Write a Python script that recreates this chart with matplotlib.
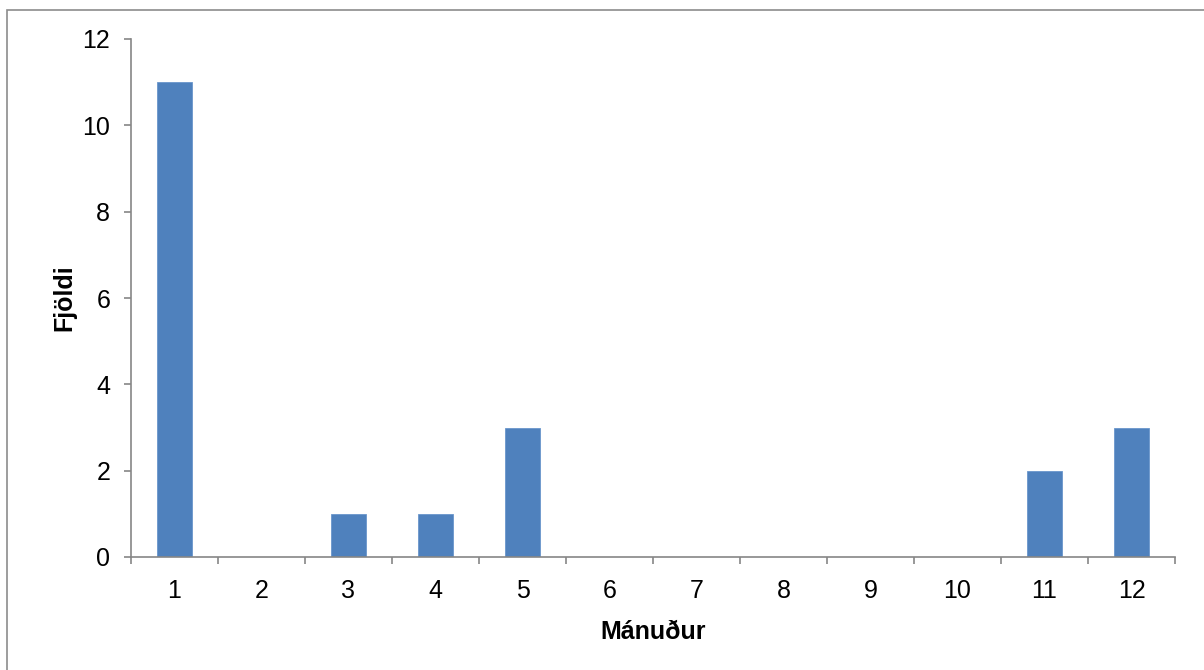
import matplotlib.pyplot as plt
from matplotlib.patches import Rectangle

plt.rcParams['font.family'] = ['Liberation Sans', 'DejaVu Sans']

manudir = [1, 2, 3, 4, 5, 6, 7, 8, 9, 10, 11, 12]
fjoldi = [11, 0, 1, 1, 3, 0, 0, 0, 0, 0, 2, 3]

fig = plt.figure(figsize=(12.04, 6.70), dpi=100)
ax = fig.add_axes([131 / 1204, 1 - 557 / 670, (1175 - 131) / 1204, (557 - 39) / 670])

# outer frame, only top and left edges fall inside the image
fig.patches.append(Rectangle((7 / 1204, -0.1), 1.2, 1 - 10 / 670 + 0.1,
                             transform=fig.transFigure, fill=False,
                             edgecolor='#8c8c8c', linewidth=1.2))

pos = list(range(len(manudir)))
ax.bar(pos, fjoldi, width=0.40, color='#4F81BD', edgecolor='#6a96cc', linewidth=0.6)

ax.set_xlim(-0.5, len(manudir) - 0.5)
ax.set_ylim(0, 12)
ax.set_yticks(range(0, 13, 2))

# category labels between boundary ticks
ax.set_xticks([p - 0.5 for p in pos] + [len(pos) - 0.5])
ax.set_xticklabels([])
ax.set_xticks(pos, minor=True)
ax.set_xticklabels([str(m) for m in manudir], minor=True)
ax.tick_params(axis='x', which='minor', length=0, pad=16, labelsize=18)
ax.tick_params(axis='x', which='major', length=5, width=1.2, color='#868686')
ax.tick_params(axis='y', length=5, width=1.2, color='#868686', labelsize=18, pad=10)

for s in ['top', 'right']:
    ax.spines[s].set_visible(False)
for s in ['left', 'bottom']:
    ax.spines[s].set_color('#868686')
    ax.spines[s].set_linewidth(1.2)

ax.set_xlabel('Mánuður', fontsize=18, fontweight='bold', labelpad=12)
ax.set_ylabel('Fjöldi', fontsize=18, fontweight='bold', labelpad=4)

fig.savefig('out.png', dpi=100)
